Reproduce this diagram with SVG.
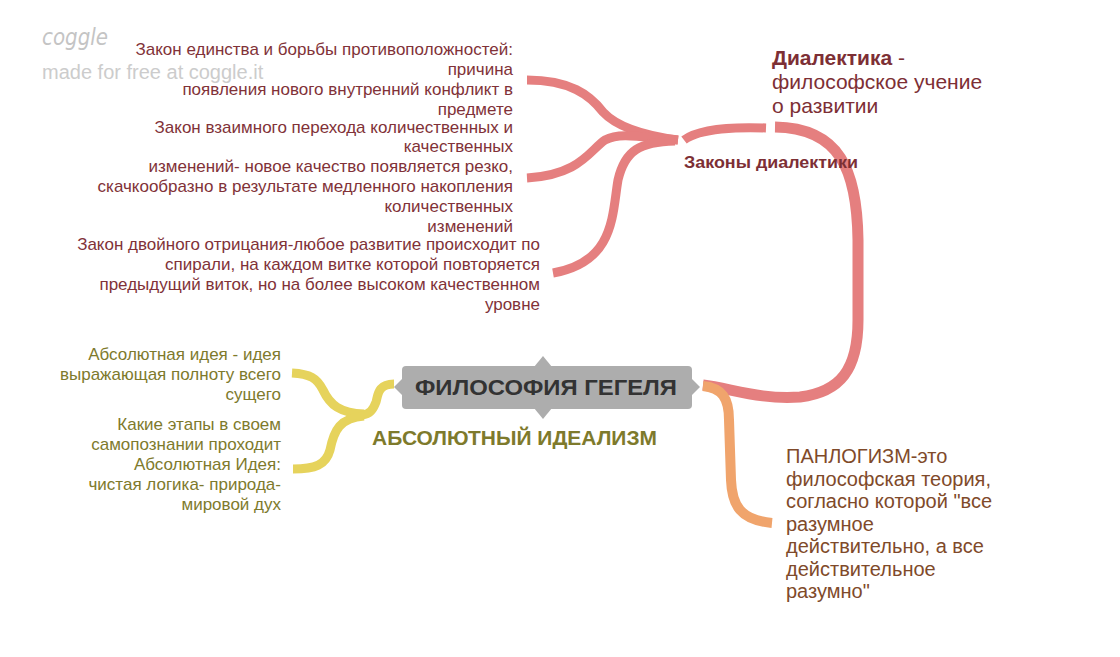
<svg xmlns="http://www.w3.org/2000/svg" width="1120" height="657" viewBox="0 0 1120 657">
<style>
.t{font-family:"Liberation Sans",Arial,sans-serif}
.red{fill:#813238;font-size:17px}
.olive{fill:#7e7a2c;font-size:17px}
.br{fill:none;stroke-linecap:butt;stroke-linejoin:round}
.r{stroke:#e57f7f}
.y{stroke:#e6d35c}
.o{stroke:#f0a46c}
</style>
<rect width="1120" height="657" fill="#ffffff"/>
<g id="watermark">
<text x="42" y="45" font-size="23" font-style="italic" fill="#c4c4c4" font-family="'DejaVu Sans',sans-serif" textLength="66" lengthAdjust="spacingAndGlyphs">coggle</text>
<text class="t" x="42" y="79" font-size="20" fill="#cccccc">made for free at coggle.it</text>
</g>
<g id="connectors">
<path class="br r" stroke-width="11" d="M703,385 C730,388 760,400 800,397 C840,392 858,370 858,320 L858,240 C857,170 840,128 775,127"/>
<path class="br r" stroke-width="9" d="M766,128 C740,127 700,128 684,140"/>
<path class="br r" stroke-width="9" d="M678,140 C640,135 615,125 603,112 C590,95 570,80 527,80"/>
<path class="br r" stroke-width="9" d="M678,140 C640,137 620,132 605,140 C590,150 580,175 527,178"/>
<path class="br r" stroke-width="9" d="M675,141 C640,142 625,150 618,180 C612,215 615,262 553,273"/>
<path class="br o" stroke-width="10" d="M703,386 C722,388 729,398 729,420 L731,480 C732,505 740,520 772,523"/>
<path class="br y" stroke-width="9" d="M394,384 C378,384 378,395 376,402 C373,410 370,414 362,415"/>
<path class="br y" stroke-width="9" d="M364,414 C340,413 330,405 323,390 C317,378 310,374 292,373"/>
<path class="br y" stroke-width="9" d="M364,416 C340,418 334,430 330,450 C326,465 315,469 293,469"/>
</g>
<g id="node-center">
<rect x="402" y="366" width="290" height="43" rx="4" fill="#adadad"/>
<polygon points="534,367 543,356 552,367" fill="#adadad"/>
<polygon points="534,408 543,419 552,408" fill="#adadad"/>
<polygon points="403,378 394,387 403,396" fill="#adadad"/>
<polygon points="691,378 700,387 691,396" fill="#adadad"/>
<text class="t" x="415" y="395" font-size="22" font-weight="bold" fill="#333333" textLength="262" lengthAdjust="spacingAndGlyphs">ФИЛОСОФИЯ ГЕГЕЛЯ</text>
</g>
<g id="node-idealism">
<text class="t" x="372" y="445" font-size="20" font-weight="bold" fill="#7e7a2c" textLength="285" lengthAdjust="spacingAndGlyphs">АБСОЛЮТНЫЙ ИДЕАЛИЗМ</text>
</g>
<g id="node-idea1">
<text class="t olive" text-anchor="end"><tspan x="281" y="360">Абсолютная идея - идея</tspan><tspan x="281" y="380">выражающая полноту всего</tspan><tspan x="281" y="400">сущего</tspan></text>
</g>
<g id="node-idea2">
<text class="t olive" text-anchor="end"><tspan x="281" y="430">Какие этапы в своем</tspan><tspan x="281" y="450">самопознании проходит</tspan><tspan x="281" y="470">Абсолютная Идея:</tspan><tspan x="281" y="490">чистая логика- природа-</tspan><tspan x="281" y="510">мировой дух</tspan></text>
</g>
<g id="node-dialectics">
<text class="t" x="772" y="65" font-size="21" fill="#7d2f35"><tspan font-weight="bold">Диалектика</tspan> -</text>
<text class="t" x="772" y="89" font-size="21" fill="#7d2f35">философское учение</text>
<text class="t" x="772" y="113" font-size="21" fill="#7d2f35">о развитии</text>
</g>
<g id="node-laws">
<text class="t" x="684" y="168" font-size="17" font-weight="bold" fill="#7d2f35" textLength="174" lengthAdjust="spacingAndGlyphs">Законы диалектики</text>
</g>
<g id="node-law1">
<text class="t red" text-anchor="end"><tspan x="513" y="55">Закон единства и борьбы противоположностей:</tspan><tspan x="513" y="75">причина</tspan><tspan x="513" y="95">появления нового внутренний конфликт в</tspan><tspan x="513" y="115">предмете</tspan></text>
</g>
<g id="node-law2">
<text class="t red" text-anchor="end"><tspan x="513" y="133">Закон взаимного перехода количественных и</tspan><tspan x="513" y="152">качественных</tspan><tspan x="513" y="172">изменений- новое качество появляется резко,</tspan><tspan x="513" y="192">скачкообразно в результате медленного накопления</tspan><tspan x="513" y="212">количественных</tspan><tspan x="513" y="232">изменений</tspan></text>
</g>
<g id="node-law3">
<text class="t red" text-anchor="end"><tspan x="540" y="250">Закон двойного отрицания-любое развитие происходит по</tspan><tspan x="540" y="270">спирали, на каждом витке которой повторяется</tspan><tspan x="540" y="290">предыдущий виток, но на более высоком качественном</tspan><tspan x="540" y="310">уровне</tspan></text>
</g>
<g id="node-panlogism">
<text class="t" font-size="20" fill="#7f4a2a"><tspan x="786" y="463">ПАНЛОГИЗМ-это</tspan><tspan x="786" y="486">философская теория,</tspan><tspan x="786" y="508">согласно которой "все</tspan><tspan x="786" y="531">разумное</tspan><tspan x="786" y="553">действительно, а все</tspan><tspan x="786" y="576">действительное</tspan><tspan x="786" y="598">разумно"</tspan></text>
</g>
</svg>
